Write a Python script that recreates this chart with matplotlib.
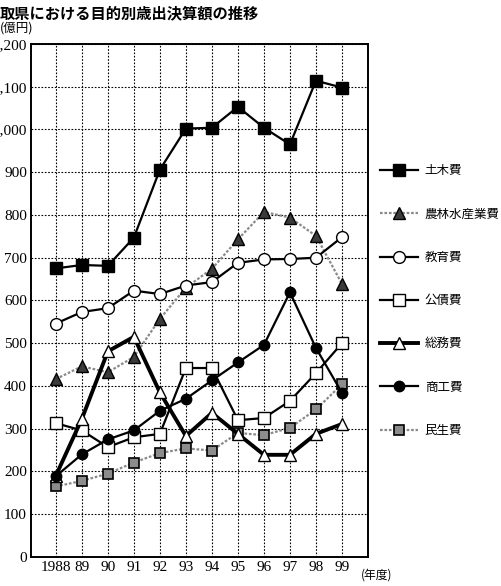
import matplotlib.pyplot as plt
from matplotlib.lines import Line2D

# 年度
years = [1988, 1989, 1990, 1991, 1992, 1993, 1994, 1995, 1996, 1997, 1998, 1999]
year_labels = ['1988', '89', '90', '91', '92', '93', '94', '95', '96', '97', '98', '99']

# 目的別歳出決算額（億円）
doboku = [675, 683, 681, 747, 906, 1002, 1004, 1053, 1004, 965, 1114, 1098]
norin = [416, 446, 432, 468, 557, 630, 674, 743, 807, 794, 751, 639]
kyoiku = [546, 573, 582, 623, 615, 635, 643, 688, 696, 697, 700, 748]
kosai = [313, 296, 257, 280, 288, 442, 442, 320, 325, 365, 430, 500]
somu = [190, 323, 481, 515, 385, 283, 337, 288, 239, 239, 288, 311]
shoko = [189, 240, 275, 296, 342, 370, 413, 455, 496, 619, 489, 384]
minsei = [165, 178, 195, 221, 243, 254, 249, 290, 285, 302, 345, 404]

series_names = ['土木費', '農林水産業費', '教育費', '公債費', '総務費', '商工費', '民生費']

jp = ['Noto Sans CJK JP', 'DejaVu Sans']
num_font = 'Liberation Serif'

fig = plt.figure(figsize=(5.02, 5.86), dpi=100)
ax = fig.add_axes([0.062, 0.0495, 0.671, 0.8755])

gray_line = dict(color='#8a8a8a', lw=1.6, ls=(0, (1.2, 0.8)))

h = {}
h['norin'], = ax.plot(years, norin, marker='^', ms=8, mfc='#3a3a3a', mec='black', mew=1, **gray_line)
h['minsei'], = ax.plot(years, minsei, marker='s', ms=7, mfc='#8c8c8c', mec='black', mew=1.2, **gray_line)
h['doboku'], = ax.plot(years, doboku, color='black', lw=1.6, marker='s', ms=8.5, mfc='black', mec='black')
h['kyoiku'], = ax.plot(years, kyoiku, color='black', lw=1.6, marker='o', ms=8.5, mfc='white', mec='black', mew=1)
h['kosai'], = ax.plot(years, kosai, color='black', lw=1.6, marker='s', ms=8, mfc='white', mec='black', mew=1)
h['somu'], = ax.plot(years, somu, color='black', lw=2.8, marker='^', ms=9, mfc='white', mec='black', mew=1)
h['shoko'], = ax.plot(years, shoko, color='black', lw=1.6, marker='o', ms=7.5, mfc='black', mec='black')

ax.set_xlim(1987.05, 2000)
ax.set_ylim(0, 1200)
ax.set_xticks(years)
ax.set_xticklabels(year_labels, fontfamily=num_font, fontsize=11)
ax.set_yticks(range(0, 1201, 100))
ax.set_yticklabels([f'{v:,}' for v in range(0, 1201, 100)], fontfamily=num_font, fontsize=11)
ax.tick_params(length=0, pad=3)
ax.grid(True, color='black', lw=0.8, ls=(0, (1.5, 1.5)))
ax.set_axisbelow(True)
for s in ax.spines.values():
    s.set_linewidth(1.4)

order = ['doboku', 'norin', 'kyoiku', 'kosai', 'somu', 'shoko', 'minsei']
leg = ax.legend([h[k] for k in order], series_names, loc='upper left',
                bbox_to_anchor=(1.02, 0.775), frameon=False, handlelength=3.1,
                handletextpad=0.5, labelspacing=2.42, borderaxespad=0,
                prop={'family': jp, 'size': 9}, numpoints=1)

fig.text(0.0, 0.978, '取県における目的別歳出決算額の推移', fontfamily=jp,
         fontsize=11, fontweight='bold', va='center', ha='left')
fig.text(0.0, 0.952, '(億円)', fontfamily=jp, fontsize=9, va='center', ha='left')
fig.text(0.75, 0.018, '(年度)', fontfamily=jp, fontsize=8.5, va='center', ha='center')

fig.savefig('out.png', dpi=100)
